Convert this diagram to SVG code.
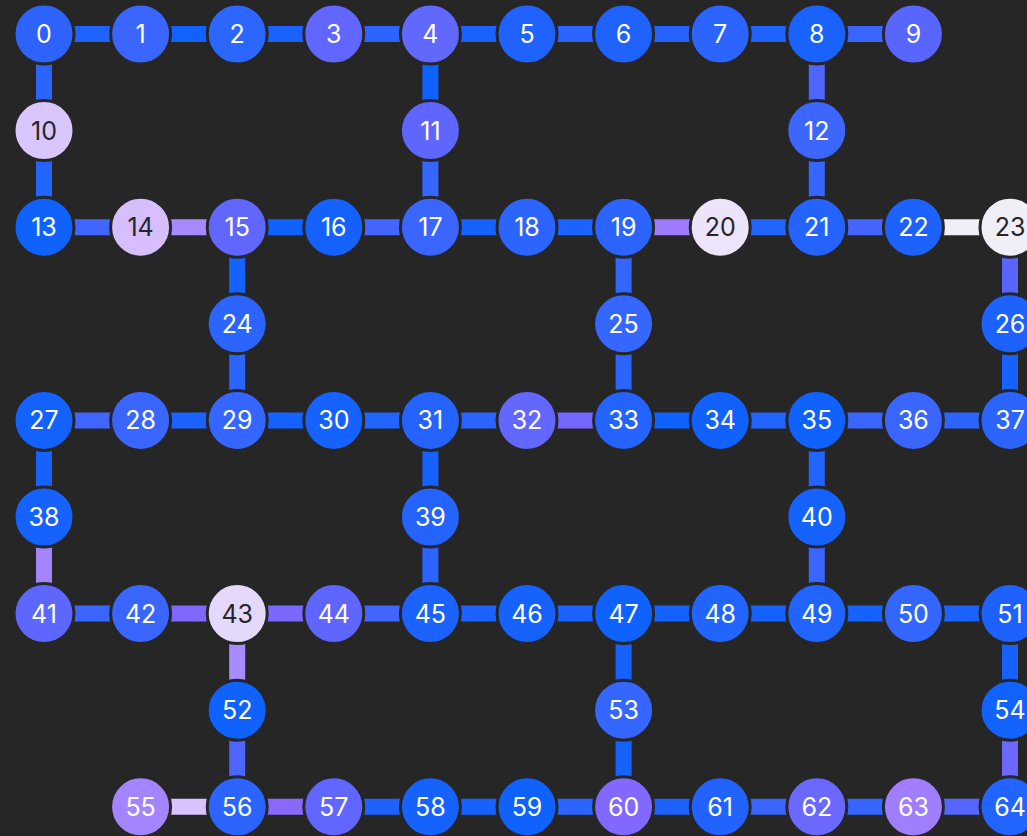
<svg xmlns="http://www.w3.org/2000/svg" width="1027" height="836" viewBox="0 0 1027 836">
<style>
.e{stroke-width:16;fill:none}
.n circle{stroke:#262626;stroke-width:3}
.n text{font-family:Inter,"Noto Sans","Liberation Sans",sans-serif;font-size:25px;text-anchor:middle;dominant-baseline:central;fill:#ffffff}
.n.l text{fill:#262626}
</style>
<rect width="1027" height="836" fill="#262626"/>
<g id="connectors">
<line class="e" x1="44" y1="34" x2="140.6" y2="34" stroke="#1f62fe"/>
<line class="e" x1="140.6" y1="34" x2="237.2" y2="34" stroke="#1262fe"/>
<line class="e" x1="237.2" y1="34" x2="333.8" y2="34" stroke="#1a62fe"/>
<line class="e" x1="333.8" y1="34" x2="430.4" y2="34" stroke="#2d64ff"/>
<line class="e" x1="430.4" y1="34" x2="527" y2="34" stroke="#1a62fe"/>
<line class="e" x1="527" y1="34" x2="623.6" y2="34" stroke="#2b64ff"/>
<line class="e" x1="623.6" y1="34" x2="720.2" y2="34" stroke="#2563ff"/>
<line class="e" x1="720.2" y1="34" x2="816.8" y2="34" stroke="#1f62fe"/>
<line class="e" x1="816.8" y1="34" x2="913.4" y2="34" stroke="#3a66ff"/>
<line class="e" x1="44" y1="34" x2="44" y2="130.6" stroke="#2b64ff"/>
<line class="e" x1="44" y1="130.6" x2="44" y2="227.2" stroke="#2264ff"/>
<line class="e" x1="430.4" y1="34" x2="430.4" y2="130.6" stroke="#1062fe"/>
<line class="e" x1="430.4" y1="130.6" x2="430.4" y2="227.2" stroke="#3566ff"/>
<line class="e" x1="816.8" y1="34" x2="816.8" y2="130.6" stroke="#4e66ff"/>
<line class="e" x1="816.8" y1="130.6" x2="816.8" y2="227.2" stroke="#3566ff"/>
<line class="e" x1="44" y1="227.2" x2="140.6" y2="227.2" stroke="#4066ff"/>
<line class="e" x1="140.6" y1="227.2" x2="237.2" y2="227.2" stroke="#a88aff"/>
<line class="e" x1="237.2" y1="227.2" x2="333.8" y2="227.2" stroke="#1062fe"/>
<line class="e" x1="333.8" y1="227.2" x2="430.4" y2="227.2" stroke="#4466ff"/>
<line class="e" x1="430.4" y1="227.2" x2="527" y2="227.2" stroke="#1562fe"/>
<line class="e" x1="527" y1="227.2" x2="623.6" y2="227.2" stroke="#1c62fe"/>
<line class="e" x1="623.6" y1="227.2" x2="720.2" y2="227.2" stroke="#9f7bff"/>
<line class="e" x1="720.2" y1="227.2" x2="816.8" y2="227.2" stroke="#2264ff"/>
<line class="e" x1="816.8" y1="227.2" x2="913.4" y2="227.2" stroke="#4466ff"/>
<line class="e" x1="913.4" y1="227.2" x2="1010" y2="227.2" stroke="#f0eef6"/>
<line class="e" x1="237.2" y1="227.2" x2="237.2" y2="323.8" stroke="#1562fe"/>
<line class="e" x1="237.2" y1="323.8" x2="237.2" y2="420.4" stroke="#2b64ff"/>
<line class="e" x1="623.6" y1="227.2" x2="623.6" y2="323.8" stroke="#3366ff"/>
<line class="e" x1="623.6" y1="323.8" x2="623.6" y2="420.4" stroke="#2b64ff"/>
<line class="e" x1="1010" y1="227.2" x2="1010" y2="323.8" stroke="#5a64ff"/>
<line class="e" x1="1010" y1="323.8" x2="1010" y2="420.4" stroke="#1562fe"/>
<line class="e" x1="44" y1="420.4" x2="140.6" y2="420.4" stroke="#4066ff"/>
<line class="e" x1="140.6" y1="420.4" x2="237.2" y2="420.4" stroke="#1c62fe"/>
<line class="e" x1="237.2" y1="420.4" x2="333.8" y2="420.4" stroke="#1562fe"/>
<line class="e" x1="333.8" y1="420.4" x2="430.4" y2="420.4" stroke="#2264ff"/>
<line class="e" x1="430.4" y1="420.4" x2="527" y2="420.4" stroke="#2b64ff"/>
<line class="e" x1="527" y1="420.4" x2="623.6" y2="420.4" stroke="#7468ff"/>
<line class="e" x1="623.6" y1="420.4" x2="720.2" y2="420.4" stroke="#1062fe"/>
<line class="e" x1="720.2" y1="420.4" x2="816.8" y2="420.4" stroke="#2264ff"/>
<line class="e" x1="816.8" y1="420.4" x2="913.4" y2="420.4" stroke="#3a66ff"/>
<line class="e" x1="913.4" y1="420.4" x2="1010" y2="420.4" stroke="#2b64ff"/>
<line class="e" x1="44" y1="420.4" x2="44" y2="517" stroke="#1562fe"/>
<line class="e" x1="44" y1="517" x2="44" y2="613.6" stroke="#a485ff"/>
<line class="e" x1="430.4" y1="420.4" x2="430.4" y2="517" stroke="#1562fe"/>
<line class="e" x1="430.4" y1="517" x2="430.4" y2="613.6" stroke="#2b64ff"/>
<line class="e" x1="816.8" y1="420.4" x2="816.8" y2="517" stroke="#2264ff"/>
<line class="e" x1="816.8" y1="517" x2="816.8" y2="613.6" stroke="#3a66ff"/>
<line class="e" x1="44" y1="613.6" x2="140.6" y2="613.6" stroke="#3a66ff"/>
<line class="e" x1="140.6" y1="613.6" x2="237.2" y2="613.6" stroke="#8068ff"/>
<line class="e" x1="237.2" y1="613.6" x2="333.8" y2="613.6" stroke="#7a68ff"/>
<line class="e" x1="333.8" y1="613.6" x2="430.4" y2="613.6" stroke="#4066ff"/>
<line class="e" x1="430.4" y1="613.6" x2="527" y2="613.6" stroke="#1c62fe"/>
<line class="e" x1="527" y1="613.6" x2="623.6" y2="613.6" stroke="#1c62fe"/>
<line class="e" x1="623.6" y1="613.6" x2="720.2" y2="613.6" stroke="#1562fe"/>
<line class="e" x1="720.2" y1="613.6" x2="816.8" y2="613.6" stroke="#1562fe"/>
<line class="e" x1="816.8" y1="613.6" x2="913.4" y2="613.6" stroke="#1562fe"/>
<line class="e" x1="913.4" y1="613.6" x2="1010" y2="613.6" stroke="#1c62fe"/>
<line class="e" x1="237.2" y1="613.6" x2="237.2" y2="710.2" stroke="#a88cff"/>
<line class="e" x1="237.2" y1="710.2" x2="237.2" y2="806.8" stroke="#4e66ff"/>
<line class="e" x1="623.6" y1="613.6" x2="623.6" y2="710.2" stroke="#1562fe"/>
<line class="e" x1="623.6" y1="710.2" x2="623.6" y2="806.8" stroke="#1562fe"/>
<line class="e" x1="1010" y1="613.6" x2="1010" y2="710.2" stroke="#1562fe"/>
<line class="e" x1="1010" y1="710.2" x2="1010" y2="806.8" stroke="#6b68ff"/>
<line class="e" x1="140.6" y1="806.8" x2="237.2" y2="806.8" stroke="#d8c2ff"/>
<line class="e" x1="237.2" y1="806.8" x2="333.8" y2="806.8" stroke="#8a68ff"/>
<line class="e" x1="333.8" y1="806.8" x2="430.4" y2="806.8" stroke="#1c62fe"/>
<line class="e" x1="430.4" y1="806.8" x2="527" y2="806.8" stroke="#1562fe"/>
<line class="e" x1="527" y1="806.8" x2="623.6" y2="806.8" stroke="#2b64ff"/>
<line class="e" x1="623.6" y1="806.8" x2="720.2" y2="806.8" stroke="#1c62fe"/>
<line class="e" x1="720.2" y1="806.8" x2="816.8" y2="806.8" stroke="#3a66ff"/>
<line class="e" x1="816.8" y1="806.8" x2="913.4" y2="806.8" stroke="#3566ff"/>
<line class="e" x1="913.4" y1="806.8" x2="1010" y2="806.8" stroke="#5566ff"/>
</g>
<g id="n0" class="n"><circle cx="44" cy="34" r="30" fill="#2d63fb"/><text x="44" y="34">0</text></g>
<g id="n1" class="n"><circle cx="140.6" cy="34" r="30" fill="#3a66ff"/><text x="140.6" y="34">1</text></g>
<g id="n2" class="n"><circle cx="237.2" cy="34" r="30" fill="#2b66ff"/><text x="237.2" y="34">2</text></g>
<g id="n3" class="n"><circle cx="333.8" cy="34" r="30" fill="#6066ff"/><text x="333.8" y="34">3</text></g>
<g id="n4" class="n"><circle cx="430.4" cy="34" r="30" fill="#6068ff"/><text x="430.4" y="34">4</text></g>
<g id="n5" class="n"><circle cx="527" cy="34" r="30" fill="#1f62fe"/><text x="527" y="34">5</text></g>
<g id="n6" class="n"><circle cx="623.6" cy="34" r="30" fill="#1f62fe"/><text x="623.6" y="34">6</text></g>
<g id="n7" class="n"><circle cx="720.2" cy="34" r="30" fill="#2c64ff"/><text x="720.2" y="34">7</text></g>
<g id="n8" class="n"><circle cx="816.8" cy="34" r="30" fill="#1a62fe"/><text x="816.8" y="34">8</text></g>
<g id="n9" class="n"><circle cx="913.4" cy="34" r="30" fill="#5865ff"/><text x="913.4" y="34">9</text></g>
<g id="n10" class="n l"><circle cx="44" cy="130.6" r="30" fill="#d9c6ff"/><text x="44" y="130.6">10</text></g>
<g id="n11" class="n"><circle cx="430.4" cy="130.6" r="30" fill="#5e66ff"/><text x="430.4" y="130.6">11</text></g>
<g id="n12" class="n"><circle cx="816.8" cy="130.6" r="30" fill="#3d66ff"/><text x="816.8" y="130.6">12</text></g>
<g id="n13" class="n"><circle cx="44" cy="227.2" r="30" fill="#0f62fe"/><text x="44" y="227.2">13</text></g>
<g id="n14" class="n l"><circle cx="140.6" cy="227.2" r="30" fill="#d6beff"/><text x="140.6" y="227.2">14</text></g>
<g id="n15" class="n"><circle cx="237.2" cy="227.2" r="30" fill="#6166ff"/><text x="237.2" y="227.2">15</text></g>
<g id="n16" class="n"><circle cx="333.8" cy="227.2" r="30" fill="#1561fe"/><text x="333.8" y="227.2">16</text></g>
<g id="n17" class="n"><circle cx="430.4" cy="227.2" r="30" fill="#3a66ff"/><text x="430.4" y="227.2">17</text></g>
<g id="n18" class="n"><circle cx="527" cy="227.2" r="30" fill="#2c64ff"/><text x="527" y="227.2">18</text></g>
<g id="n19" class="n"><circle cx="623.6" cy="227.2" r="30" fill="#2c64ff"/><text x="623.6" y="227.2">19</text></g>
<g id="n20" class="n l"><circle cx="720.2" cy="227.2" r="30" fill="#ece4fa"/><text x="720.2" y="227.2">20</text></g>
<g id="n21" class="n"><circle cx="816.8" cy="227.2" r="30" fill="#2563ff"/><text x="816.8" y="227.2">21</text></g>
<g id="n22" class="n"><circle cx="913.4" cy="227.2" r="30" fill="#1d62fe"/><text x="913.4" y="227.2">22</text></g>
<g id="n23" class="n l"><circle cx="1010" cy="227.2" r="30" fill="#f0eef6"/><text x="1010" y="227.2">23</text></g>
<g id="n24" class="n"><circle cx="237.2" cy="323.8" r="30" fill="#2b64ff"/><text x="237.2" y="323.8">24</text></g>
<g id="n25" class="n"><circle cx="623.6" cy="323.8" r="30" fill="#3566ff"/><text x="623.6" y="323.8">25</text></g>
<g id="n26" class="n"><circle cx="1010" cy="323.8" r="30" fill="#1d62fe"/><text x="1010" y="323.8">26</text></g>
<g id="n27" class="n"><circle cx="44" cy="420.4" r="30" fill="#1462fe"/><text x="44" y="420.4">27</text></g>
<g id="n28" class="n"><circle cx="140.6" cy="420.4" r="30" fill="#3a66ff"/><text x="140.6" y="420.4">28</text></g>
<g id="n29" class="n"><circle cx="237.2" cy="420.4" r="30" fill="#3566ff"/><text x="237.2" y="420.4">29</text></g>
<g id="n30" class="n"><circle cx="333.8" cy="420.4" r="30" fill="#1662fe"/><text x="333.8" y="420.4">30</text></g>
<g id="n31" class="n"><circle cx="430.4" cy="420.4" r="30" fill="#2563ff"/><text x="430.4" y="420.4">31</text></g>
<g id="n32" class="n"><circle cx="527" cy="420.4" r="30" fill="#6467ff"/><text x="527" y="420.4">32</text></g>
<g id="n33" class="n"><circle cx="623.6" cy="420.4" r="30" fill="#2563ff"/><text x="623.6" y="420.4">33</text></g>
<g id="n34" class="n"><circle cx="720.2" cy="420.4" r="30" fill="#1061fe"/><text x="720.2" y="420.4">34</text></g>
<g id="n35" class="n"><circle cx="816.8" cy="420.4" r="30" fill="#0f62fe"/><text x="816.8" y="420.4">35</text></g>
<g id="n36" class="n"><circle cx="913.4" cy="420.4" r="30" fill="#3a66ff"/><text x="913.4" y="420.4">36</text></g>
<g id="n37" class="n"><circle cx="1010" cy="420.4" r="30" fill="#2c64ff"/><text x="1010" y="420.4">37</text></g>
<g id="n38" class="n"><circle cx="44" cy="517" r="30" fill="#1562fe"/><text x="44" y="517">38</text></g>
<g id="n39" class="n"><circle cx="430.4" cy="517" r="30" fill="#2563ff"/><text x="430.4" y="517">39</text></g>
<g id="n40" class="n"><circle cx="816.8" cy="517" r="30" fill="#1562fe"/><text x="816.8" y="517">40</text></g>
<g id="n41" class="n"><circle cx="44" cy="613.6" r="30" fill="#5d66ff"/><text x="44" y="613.6">41</text></g>
<g id="n42" class="n"><circle cx="140.6" cy="613.6" r="30" fill="#3a66ff"/><text x="140.6" y="613.6">42</text></g>
<g id="n43" class="n l"><circle cx="237.2" cy="613.6" r="30" fill="#e4d8fb"/><text x="237.2" y="613.6">43</text></g>
<g id="n44" class="n"><circle cx="333.8" cy="613.6" r="30" fill="#5f66ff"/><text x="333.8" y="613.6">44</text></g>
<g id="n45" class="n"><circle cx="430.4" cy="613.6" r="30" fill="#1c62fe"/><text x="430.4" y="613.6">45</text></g>
<g id="n46" class="n"><circle cx="527" cy="613.6" r="30" fill="#1562fe"/><text x="527" y="613.6">46</text></g>
<g id="n47" class="n"><circle cx="623.6" cy="613.6" r="30" fill="#0f62fe"/><text x="623.6" y="613.6">47</text></g>
<g id="n48" class="n"><circle cx="720.2" cy="613.6" r="30" fill="#2264ff"/><text x="720.2" y="613.6">48</text></g>
<g id="n49" class="n"><circle cx="816.8" cy="613.6" r="30" fill="#2264ff"/><text x="816.8" y="613.6">49</text></g>
<g id="n50" class="n"><circle cx="913.4" cy="613.6" r="30" fill="#3366ff"/><text x="913.4" y="613.6">50</text></g>
<g id="n51" class="n"><circle cx="1010" cy="613.6" r="30" fill="#1d62fe"/><text x="1010" y="613.6">51</text></g>
<g id="n52" class="n"><circle cx="237.2" cy="710.2" r="30" fill="#0f62fe"/><text x="237.2" y="710.2">52</text></g>
<g id="n53" class="n"><circle cx="623.6" cy="710.2" r="30" fill="#3566ff"/><text x="623.6" y="710.2">53</text></g>
<g id="n54" class="n"><circle cx="1010" cy="710.2" r="30" fill="#1262fe"/><text x="1010" y="710.2">54</text></g>
<g id="n55" class="n"><circle cx="140.6" cy="806.8" r="30" fill="#a585ff"/><text x="140.6" y="806.8">55</text></g>
<g id="n56" class="n"><circle cx="237.2" cy="806.8" r="30" fill="#2b64ff"/><text x="237.2" y="806.8">56</text></g>
<g id="n57" class="n"><circle cx="333.8" cy="806.8" r="30" fill="#6066ff"/><text x="333.8" y="806.8">57</text></g>
<g id="n58" class="n"><circle cx="430.4" cy="806.8" r="30" fill="#1562fe"/><text x="430.4" y="806.8">58</text></g>
<g id="n59" class="n"><circle cx="527" cy="806.8" r="30" fill="#0f62fe"/><text x="527" y="806.8">59</text></g>
<g id="n60" class="n"><circle cx="623.6" cy="806.8" r="30" fill="#8268ff"/><text x="623.6" y="806.8">60</text></g>
<g id="n61" class="n"><circle cx="720.2" cy="806.8" r="30" fill="#2263ff"/><text x="720.2" y="806.8">61</text></g>
<g id="n62" class="n"><circle cx="816.8" cy="806.8" r="30" fill="#6b68ff"/><text x="816.8" y="806.8">62</text></g>
<g id="n63" class="n"><circle cx="913.4" cy="806.8" r="30" fill="#a07eff"/><text x="913.4" y="806.8">63</text></g>
<g id="n64" class="n"><circle cx="1010" cy="806.8" r="30" fill="#2264ff"/><text x="1010" y="806.8">64</text></g>
</svg>
